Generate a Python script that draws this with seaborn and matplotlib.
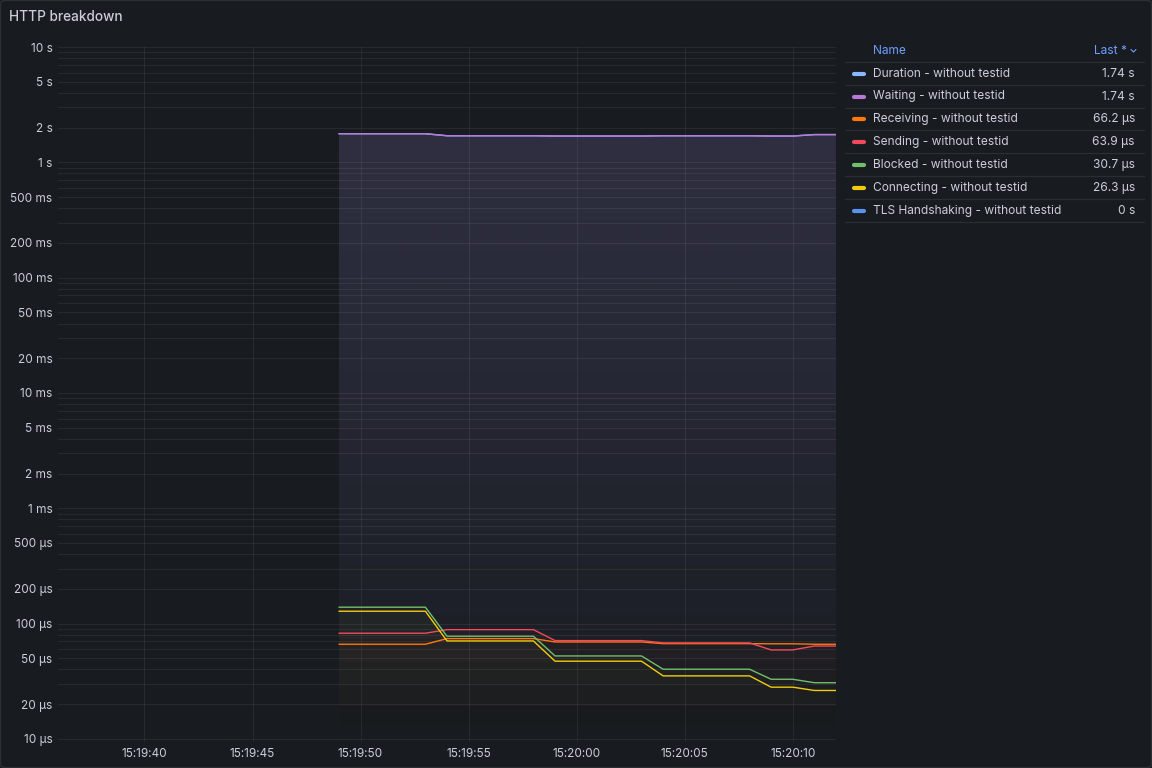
import matplotlib

matplotlib.use("Agg")
import matplotlib.dates as mdates
import matplotlib.pyplot as plt
import matplotlib.ticker as mticker
import numpy as np
import pandas as pd
import seaborn as sns
from matplotlib.colors import to_rgb
from matplotlib.lines import Line2D
from matplotlib.patches import FancyBboxPatch


DAY = "2024-01-01 "
TIMES = [
    "15:19:49", "15:19:50", "15:19:51", "15:19:52", "15:19:53", "15:19:54",
    "15:19:55", "15:19:56", "15:19:57", "15:19:58", "15:19:59", "15:20:00",
    "15:20:01", "15:20:02", "15:20:03", "15:20:04", "15:20:05", "15:20:06",
    "15:20:07", "15:20:08", "15:20:09", "15:20:10", "15:20:11", "15:20:12",
]

# seconds
DURATION_S = [1.77, 1.77, 1.77, 1.77, 1.77, 1.70, 1.70, 1.70, 1.70, 1.70, 1.69, 1.69,
              1.69, 1.69, 1.69, 1.70, 1.70, 1.70, 1.70, 1.70, 1.69, 1.69, 1.74, 1.74]
WAITING_S = [1.77, 1.77, 1.77, 1.77, 1.77, 1.70, 1.70, 1.70, 1.70, 1.70, 1.69, 1.69,
             1.69, 1.69, 1.69, 1.70, 1.70, 1.70, 1.70, 1.70, 1.69, 1.69, 1.74, 1.74]
TLS_S = [0.0] * 24

# microseconds
RECEIVING_US = [66.2, 66.2, 66.2, 66.2, 66.2, 74.1, 74.1, 74.1, 74.1, 74.1, 69.3, 69.3,
                69.3, 69.3, 69.3, 67.0, 67.0, 67.0, 67.0, 67.0, 66.8, 66.8, 66.2, 66.2]
SENDING_US = [82.5, 82.5, 82.5, 82.5, 82.5, 88.6, 88.6, 88.6, 88.6, 88.6, 71.2, 71.2,
              71.2, 71.2, 71.2, 68.0, 68.0, 68.0, 68.0, 68.0, 59.1, 59.1, 63.9, 63.9]
BLOCKED_US = [138.7, 138.7, 138.7, 138.7, 138.7, 77.7, 77.7, 77.7, 77.7, 77.7, 52.4, 52.4,
              52.4, 52.4, 52.4, 40.2, 40.2, 40.2, 40.2, 40.2, 32.9, 32.9, 30.7, 30.7]
CONNECTING_US = [128.0, 128.0, 128.0, 128.0, 128.0, 70.7, 70.7, 70.7, 70.7, 70.7, 47.2, 47.2,
                 47.2, 47.2, 47.2, 35.2, 35.2, 35.2, 35.2, 35.2, 28.1, 28.1, 26.3, 26.3]

SERIES_NAMES = [
    "Duration - without testid",
    "Waiting - without testid",
    "Receiving - without testid",
    "Sending - without testid",
    "Blocked - without testid",
    "Connecting - without testid",
    "TLS Handshaking - without testid",
]
SERIES_COLORS = ["#8AB8FF", "#B877D9", "#FF780A", "#F2495C", "#73BF69", "#F2CC0C", "#5794F2"]

Y_TICKS = [10, 5, 2, 1, 0.5, 0.2, 0.1, 0.05, 0.02, 0.01, 5e-3, 2e-3, 1e-3,
           5e-4, 2e-4, 1e-4, 5e-5, 2e-5, 1e-5]
X_START = DAY + "15:19:36"
X_END = DAY + "15:20:12"
Y_MIN, Y_MAX = 9.4e-6, 10.0

BG = "#181b1f"
TEXT = "#ccccdc"


def fmt_duration(v: float) -> str:
    if v == 0:
        return "0 s"
    if v >= 1:
        unit, scale = "s", 1
    elif v >= 1e-3:
        unit, scale = "ms", 1e3
    else:
        unit, scale = "µs", 1e6
    return f"{v * scale:.3g} {unit}"


def build_frame() -> pd.DataFrame:
    series_values = [
        DURATION_S,
        WAITING_S,
        [v * 1e-6 for v in RECEIVING_US],
        [v * 1e-6 for v in SENDING_US],
        [v * 1e-6 for v in BLOCKED_US],
        [v * 1e-6 for v in CONNECTING_US],
        TLS_S,
    ]
    frames = []
    for name, values in zip(SERIES_NAMES, series_values):
        frames.append(pd.DataFrame({
            "time": pd.to_datetime([DAY + t for t in TIMES]),
            "value": values,
            "series": name,
        }))
    return pd.concat(frames, ignore_index=True)


def gradient_fill(ax, x, y, color, top_alpha=0.1):
    coll = ax.fill_between(x, y, Y_MIN, facecolor="none", edgecolor="none")
    path = coll.get_paths()[0]
    grad = np.zeros((256, 1, 4))
    grad[..., :3] = to_rgb(color)
    grad[..., 3] = (top_alpha * np.linspace(1.0, 0.0, 256) ** 0.85)[:, None]
    im = ax.imshow(grad, aspect="auto", extent=(0, 1, 0, 1), transform=ax.transAxes,
                   origin="upper", zorder=0.2, interpolation="bilinear")
    im.set_clip_path(path, transform=ax.transData)


def main() -> None:
    sns.set_theme(style="dark")
    plt.rcParams["font.family"] = ["Inter", "DejaVu Sans"]

    df = build_frame()
    plot_df = df[df["value"] > 0]

    fig = plt.figure(figsize=(11.52, 7.68), dpi=100, facecolor=BG)
    ax = fig.add_axes([58 / 1152, 1 - 742 / 768, (836 - 58) / 1152, (742 - 47) / 768])
    ax.set_facecolor(BG)
    ax.set_yscale("log")
    ax.set_autoscale_on(False)

    palette = dict(zip(SERIES_NAMES, SERIES_COLORS))
    for name in SERIES_NAMES:
        sub = plot_df[plot_df["series"] == name]
        if len(sub):
            gradient_fill(ax, sub["time"], sub["value"], palette[name])

    sns.lineplot(
        data=plot_df,
        x="time",
        y="value",
        hue="series",
        hue_order=[n for n in SERIES_NAMES if n in set(plot_df["series"])],
        palette=palette,
        estimator=None,
        linewidth=1.0,
        legend=False,
        ax=ax,
        zorder=2,
    )

    ax.set_xlim(pd.Timestamp(X_START), pd.Timestamp(X_END))
    ax.set_ylim(Y_MIN, Y_MAX)

    ax.yaxis.set_major_locator(mticker.FixedLocator(Y_TICKS))
    ax.yaxis.set_major_formatter(mticker.FuncFormatter(lambda v, _: fmt_duration(v)))
    ax.yaxis.set_minor_locator(mticker.LogLocator(base=10, subs=(3, 4, 6, 7, 8, 9), numticks=100))
    ax.yaxis.set_minor_formatter(mticker.NullFormatter())
    ax.xaxis.set_major_locator(mdates.SecondLocator(bysecond=range(0, 60, 5)))
    ax.xaxis.set_major_formatter(mdates.DateFormatter("%H:%M:%S"))

    ax.set_axisbelow(True)
    ax.grid(True, which="both", axis="y", color="white", alpha=0.065, linewidth=0.75)
    ax.grid(True, which="major", axis="x", color="white", alpha=0.065, linewidth=0.75)
    ax.tick_params(axis="both", which="both", length=0, colors=TEXT, labelsize=8.5)
    ax.tick_params(axis="y", pad=4)
    ax.tick_params(axis="x", pad=4)
    for spine in ax.spines.values():
        spine.set_visible(False)
    ax.set_xlabel("")
    ax.set_ylabel("")

    # panel frame and title
    fig.add_artist(FancyBboxPatch(
        (0.5 / 1152, 0.5 / 768), 1151 / 1152, 767 / 768,
        boxstyle="round,pad=0,rounding_size=0.004", transform=fig.transFigure,
        facecolor="none", edgecolor="#2c3036", linewidth=1.0,
    ))
    fig.text(9 / 1152, 1 - 17 / 768, "HTTP breakdown", color=TEXT, fontsize=9.8,
             fontweight="medium", ha="left", va="center")

    # legend table
    def fx(px):
        return px / 1152

    def fy(py):
        return 1 - py / 768

    fig.text(fx(873), fy(51), "Name", color="#6E9FFF", fontsize=8.6, ha="left", va="center")
    fig.text(fx(1127), fy(51), "Last *", color="#6E9FFF", fontsize=8.6, ha="right", va="center")
    fig.add_artist(Line2D([fx(1131), fx(1133.5), fx(1136)], [fy(49.5), fy(52), fy(49.5)],
                          color="#6E9FFF", linewidth=0.8, transform=fig.transFigure))

    row_h = 22.9
    for i in range(len(SERIES_NAMES) + 1):
        y_sep = 61.7 + i * row_h
        fig.add_artist(Line2D([fx(845), fx(1144)], [fy(y_sep), fy(y_sep)], color="#2a2d33",
                              linewidth=0.9, transform=fig.transFigure))

    for i, name in enumerate(SERIES_NAMES):
        y_row = 73.6 + i * row_h
        last = df[df["series"] == name]["value"].iloc[-1]
        fig.add_artist(Line2D([fx(854), fx(864)], [fy(y_row), fy(y_row)],
                              color=palette[name], linewidth=3.0, solid_capstyle="round",
                              transform=fig.transFigure))
        fig.text(fx(873), fy(y_row), name, color=TEXT, fontsize=8.6, ha="left", va="center")
        fig.text(fx(1135), fy(y_row), fmt_duration(last), color=TEXT, fontsize=8.6,
                 ha="right", va="center")

    fig.savefig("out.png", dpi=100, facecolor=BG)
    plt.close(fig)


if __name__ == "__main__":
    main()
